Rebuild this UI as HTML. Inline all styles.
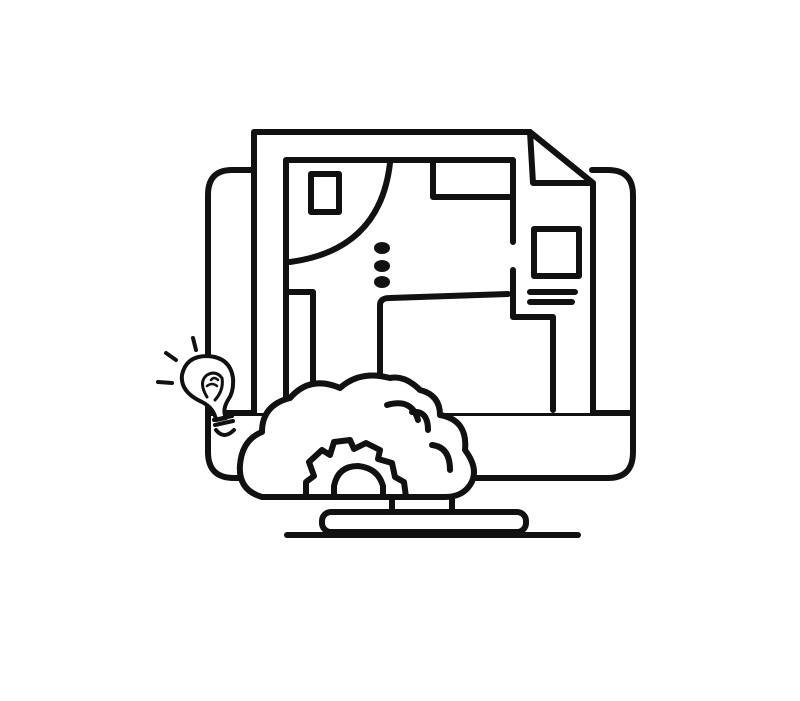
<!DOCTYPE html>
<html><head><meta charset="utf-8"><style>html,body{margin:0;background:#fff}</style></head>
<body>
<svg width="800" height="696" viewBox="0 0 800 696" xmlns="http://www.w3.org/2000/svg" fill="none" stroke="#111" stroke-width="6" stroke-linecap="round" stroke-linejoin="round">
<rect width="800" height="696" fill="#fff" stroke="none"/>
<!-- monitor -->
<path d="M252 170 H232 Q208 170 208 195 V452 Q208 478 234 478 H608 Q633 478 633 452 V195 Q633 170 608 170 H592"/>
<path d="M208 413 H633"/>
<!-- document -->
<path d="M254 413 V132 H530 L593 183 V413" fill="#fff"/>
<path d="M530 132 L533 183 H593"/>
<!-- inner frame -->
<path d="M286 413 V160 H513 V242"/>
<path d="M513 270 V317 H553 V410"/>
<path d="M433 160 V197 H513"/>
<path d="M390 163 Q380 250 290 262"/>
<rect x="311" y="174" width="28" height="38"/>
<path d="M530 292 H575 M530 302 H572"/>
<rect x="534" y="229" width="45" height="47"/>
<ellipse cx="382" cy="248" rx="5" ry="3" fill="#111"/>
<ellipse cx="382" cy="266" rx="5" ry="3" fill="#111"/>
<ellipse cx="382" cy="282" rx="5" ry="3" fill="#111"/>
<path d="M288 292 H313 V388"/>
<path d="M380 410 V305 Q380 298 390 298 L508 294"/>
<!-- stand -->
<path d="M392 497 V512 M452 497 V512"/>
<rect x="322" y="512" width="204" height="20" rx="9" fill="#fff"/>
<path d="M287 535 H578"/>
<!-- cloud -->
<path d="M262 497 Q238 490 240 465 Q242 440 262 432 Q262 405 290 398 Q310 375 340 388 Q360 370 390 378 Q405 375 420 390 Q440 395 440 415 Q468 420 465 450 Q480 470 470 485 Q462 497 445 497 Z" fill="#fff"/>
<path d="M387 405 Q412 398 418 420 M412 412 Q428 410 428 430 M432 445 Q450 447 450 470"/>
<!-- gear -->
<path d="M306 497 V482 L314 476 L309 462 L322 450 L330 455 L334 442 L350 440 L354 449 L366 443 L380 450 L378 459 L392 463 L395 477 L404 482 L406 497"/>
<path d="M334 497 V486 Q338 466 358 466 Q378 468 383 486 V497"/>
<!-- bulb -->
<path d="M216 420 Q214 408 202 402 Q180 392 182 375 Q186 356 207 356 Q230 357 233 378 Q234 392 228 400 Q222 410 226 418 Z" fill="#fff" stroke-width="4"/>
<path d="M207 397 Q198 382 207 375 Q216 370 222 378 Q224 390 215 400" stroke-width="3"/>
<path d="M211 380 Q214 376 218 380 M207 386 Q212 382 217 386" stroke-width="2.5"/>
<path d="M214 420 L232 416 M215 425 L233 421 M216 430 Q224 440 234 430" stroke-width="4"/>
<path d="M193 338 L196 350 M166 353 L176 360 M158 382 L172 383" stroke-width="4"/>
</svg>
</body></html>
